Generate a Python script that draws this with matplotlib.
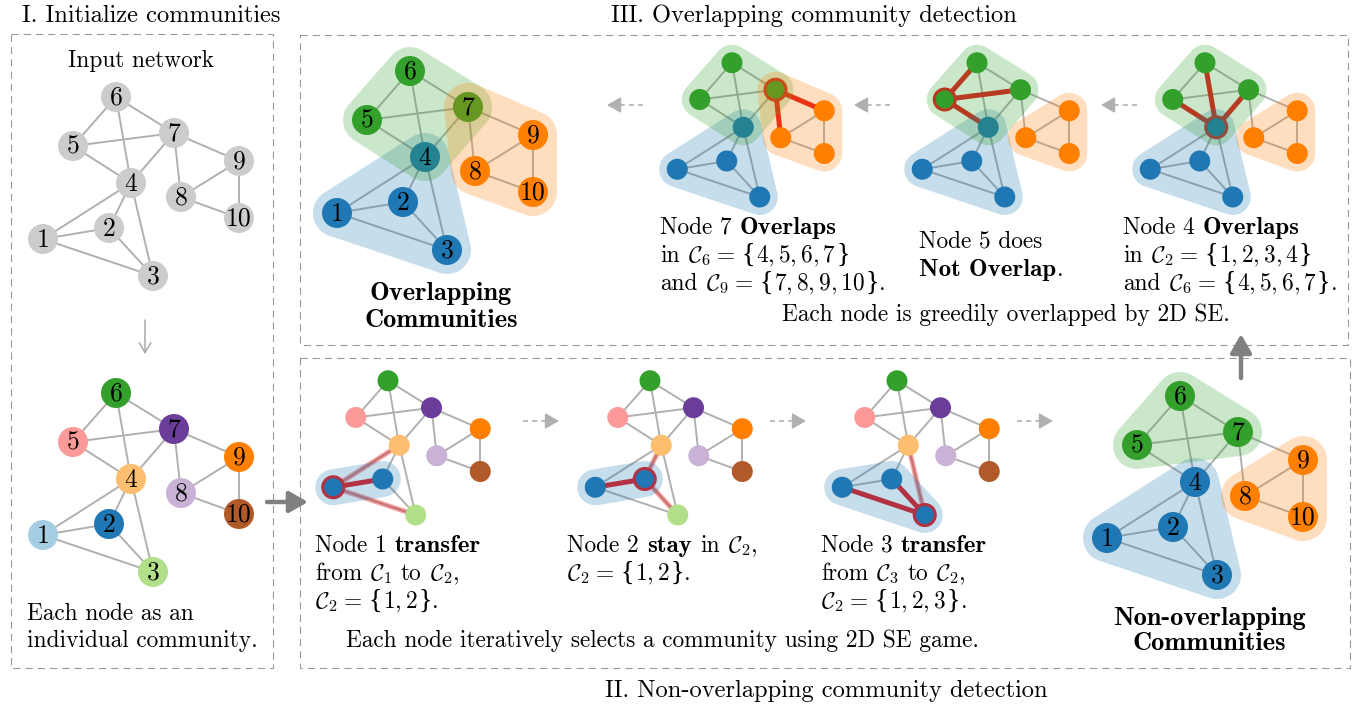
import numpy as np
import matplotlib
matplotlib.use("Agg")
import matplotlib.pyplot as plt
from matplotlib.patches import Circle, Polygon, FancyArrowPatch

plt.rcParams['font.family'] = 'cmr10'
plt.rcParams['mathtext.fontset'] = 'cm'
plt.rcParams['axes.unicode_minus'] = False

# graph: node ids, base layout (input network), edges
nodes = [1, 2, 3, 4, 5, 6, 7, 8, 9, 10]
base_x = [43, 109, 153, 131, 73, 116, 174, 181, 239, 239]
base_y = [239, 228, 276, 183, 146, 97, 133, 197, 161, 218]
edges = [(1, 2), (1, 3), (1, 4), (2, 3), (2, 4), (3, 4), (4, 5), (4, 6), (4, 7),
         (5, 6), (5, 7), (6, 7), (7, 8), (7, 9), (8, 9), (8, 10), (9, 10)]

# colours
init_colors = ['#a6cee3', '#1f78b4', '#b2df8a', '#fdbf6f', '#fb9a99',
               '#33a02c', '#6a3d9a', '#cab2d6', '#ff7f00', '#b15928']
blue, green, orange = '#1f78b4', '#33a02c', '#ff7f00'
final_colors = [blue, blue, blue, blue, green, green, green, orange, orange, orange]
red = '#e41a1c'

# communities
ov_comms = [([1, 2, 3, 4], blue), ([4, 5, 6, 7], green), ([7, 8, 9, 10], orange)]
ov_comms_b = [([1, 2, 3, 4], blue), ([4, 5, 6, 7], green), ([8, 9, 10], orange)]
non_comms = [([1, 2, 3, 4], blue), ([5, 6, 7], green), ([8, 9, 10], orange)]

# captions: (text, font) pieces per line
RM, BF, BR = 'cmr10', 'cmb10', 'Liberation Serif'
lines7 = [[('Node 7 ', RM), ('Overlaps', BF)],
          [('in ', RM), (r'$\mathcal{C}_6$', RM), (' = ', RM), ('{', BR), (r'$4,5,6,7$', RM), ('}', BR)],
          [('and ', RM), (r'$\mathcal{C}_9$', RM), (' = ', RM), ('{', BR), (r'$7,8,9,10$', RM), ('}', BR), ('.', RM)]]
lines5 = [[('Node 5 does', RM)],
          [('Not Overlap', BF), ('.', RM)]]
lines4 = [[('Node 4 ', RM), ('Overlaps', BF)],
          [('in ', RM), (r'$\mathcal{C}_2$', RM), (' = ', RM), ('{', BR), (r'$1,2,3,4$', RM), ('}', BR)],
          [('and ', RM), (r'$\mathcal{C}_6$', RM), (' = ', RM), ('{', BR), (r'$4,5,6,7$', RM), ('}', BR), ('.', RM)]]
lines_n1 = [[('Node 1 ', RM), ('transfer', BF)],
            [('from ', RM), (r'$\mathcal{C}_1$', RM), (' to ', RM), (r'$\mathcal{C}_2$', RM), (',', RM)],
            [(r'$\mathcal{C}_2$', RM), (' = ', RM), ('{', BR), (r'$1,2$', RM), ('}', BR), ('.', RM)]]
lines_n2 = [[('Node 2 ', RM), ('stay', BF), (' in ', RM), (r'$\mathcal{C}_2$', RM), (',', RM)],
            [(r'$\mathcal{C}_2$', RM), (' = ', RM), ('{', BR), (r'$1,2$', RM), ('}', BR), ('.', RM)]]
lines_n3 = [[('Node 3 ', RM), ('transfer', BF)],
            [('from ', RM), (r'$\mathcal{C}_3$', RM), (' to ', RM), (r'$\mathcal{C}_2$', RM), (',', RM)],
            [(r'$\mathcal{C}_2$', RM), (' = ', RM), ('{', BR), (r'$1,2,3$', RM), ('}', BR), ('.', RM)]]


def hull(p):
    pts = sorted(set(map(tuple, np.round(p, 3))))
    def half(seq):
        out = []
        for q in seq:
            while len(out) >= 2:
                a, b = out[-2], out[-1]
                if (b[0]-a[0])*(q[1]-a[1]) - (b[1]-a[1])*(q[0]-a[0]) <= 0:
                    out.pop()
                else:
                    break
            out.append(q)
        return out
    lo = half(pts)
    up = half(pts[::-1])
    return np.array(lo[:-1] + up[:-1])


def blob(p, pad, n=48):
    ang = np.linspace(0, 2*np.pi, n, endpoint=False)
    ring = np.stack([np.cos(ang), np.sin(ang)], 1) * pad
    return hull((p[:, None, :] + ring[None]).reshape(-1, 2))


fig = plt.figure(figsize=(13.69, 7.12), dpi=100)
ax = fig.add_axes([0, 0, 1, 1])
ax.set_xlim(0, 1369)
ax.set_ylim(712, 0)
ax.axis('off')
renderer = fig.canvas.get_renderer()

bx = np.array(base_x, float)
by = np.array(base_y, float)


def draw_graph(dx, dy, s, colors, r, comms=(), labels=False, focus=None,
               strong=(), weak=(), pad=24):
    pos = {n: (bx[i]*s + dx, by[i]*s + dy) for i, n in enumerate(nodes)}
    for a, b in edges:
        ax.plot([pos[a][0], pos[b][0]], [pos[a][1], pos[b][1]],
                color='#b0b0b0', lw=1.4, zorder=1, solid_capstyle='round')
    for b in strong:
        ax.plot([pos[focus][0], pos[b][0]], [pos[focus][1], pos[b][1]],
                color=red, lw=3.6, zorder=2)
    for b in weak:
        ax.plot([pos[focus][0], pos[b][0]], [pos[focus][1], pos[b][1]],
                color=red, alpha=0.42, lw=3.6, zorder=2)
    for i, n in enumerate(nodes):
        hl = n == focus
        ax.add_patch(Circle(pos[n], r, fc=colors[i], ec=red if hl else 'none',
                            lw=2.2 if hl else 0, zorder=3))
        if labels:
            ax.text(pos[n][0], pos[n][1] + 1, str(n), ha='center', va='center',
                    fontsize=18.5, zorder=5)
    for members, col in comms:
        p = np.array([pos[m] for m in members])
        ax.add_patch(Polygon(blob(p, pad*s), closed=True, fc=col, alpha=0.25,
                             ec='none', zorder=4))


# I. initialize
draw_graph(0, 0, 1, ['#cccccc']*10, 15, labels=True)
draw_graph(0, 296, 1, init_colors, 15, labels=True)

# III. overlapping detection
draw_graph(294, -26, 1, final_colors, 15, ov_comms, labels=True)
draw_graph(645, -10, 0.75, final_colors, 10.5, ov_comms, focus=7, strong=[8, 9])
draw_graph(890, -10, 0.75, final_colors, 10.5, ov_comms_b, focus=5, strong=[4, 6, 7])
draw_graph(1118, -10, 0.75, final_colors, 10.5, ov_comms_b, focus=4, strong=[5, 6, 7])

# II. non-overlapping detection
c1 = list(init_colors); c1[0] = blue
draw_graph(301, 308, 0.75, c1, 10.5, [([1, 2], blue)], focus=1, strong=[2], weak=[3, 4])
draw_graph(563, 308, 0.75, c1, 10.5, [([1, 2], blue)], focus=2, strong=[1], weak=[3, 4])
c3 = list(c1); c3[2] = blue
draw_graph(810, 308, 0.75, c3, 10.5, [([1, 2, 3], blue)], focus=3, strong=[1, 2], weak=[4])
draw_graph(1064, 299, 1, final_colors, 15, non_comms, labels=True)

# dashed boxes
box_kw = dict(fill=False, ec='#999999', lw=0.8, ls=(0, (6.5, 4.5)), zorder=0)
for x0, y0, x1, y1 in [(11, 34, 273, 668), (300, 35, 1348, 345), (300, 358, 1350, 668)]:
    ax.add_patch(plt.Rectangle((x0, y0), x1 - x0, y1 - y0, **box_kw))

# arrows
def arrow(p0, p1, color, lw, ms, dashed=False, style='-|>,head_length=0.7,head_width=0.4'):
    if dashed:
        mid = (p1[0] - (p1[0]-p0[0])*0.35, p1[1])
        ax.plot([p0[0], mid[0]], [p0[1], mid[1]], color=color, lw=lw, ls=(0, (3, 2.5)))
        p0 = mid
    ax.add_patch(FancyArrowPatch(p0, p1, arrowstyle=style, color=color, lw=lw,
                                 mutation_scale=ms, shrinkA=0, shrinkB=0))

arrow((145, 320), (145, 354), '#aaaaaa', 1.1, 14, style='->,head_length=0.5,head_width=0.3')
arrow((267, 502), (308, 502), '#808080', 3.2, 16)
arrow((1241, 378), (1241, 334), '#808080', 3.2, 16)
for xa, xb in [(643, 607), (890, 854), (1137, 1101)]:
    arrow((xa, 105), (xb, 105), '#b0b0b0', 1.2, 12, dashed=True)
for xa, xb in [(523, 559), (770, 806), (1017, 1053)]:
    arrow((xa, 421), (xb, 421), '#b0b0b0', 1.2, 12, dashed=True)

# titles and captions
fs = 16.8
fst = 17.6
fsb = 19
ax.text(22, 22, 'I. Initialize communities', fontsize=fst, va='baseline')
ax.text(814, 22, 'III. Overlapping community detection', fontsize=fst, va='baseline', ha='center')
ax.text(826, 697, 'II. Non-overlapping community detection', fontsize=fst, va='baseline', ha='center')
ax.text(141, 67, 'Input network', fontsize=fs, va='baseline', ha='center')
ax.text(27, 620, 'Each node as an', fontsize=fs, va='baseline')
ax.text(27, 647, 'individual community.', fontsize=fs, va='baseline')

ax.text(441, 300, 'Overlapping', family=BF, fontsize=fsb, va='baseline', ha='center')
ax.text(441, 327, 'Communities', family=BF, fontsize=fsb, va='baseline', ha='center')
ax.text(1209, 625, 'Non-overlapping', family=BF, fontsize=fsb, va='baseline', ha='center')
ax.text(1209, 650, 'Communities', family=BF, fontsize=fsb, va='baseline', ha='center')


def text_w(s, fam, size):
    t = ax.text(0, 0, s, family=fam, fontsize=size)
    w = t.get_window_extent(renderer).width
    t.remove()
    return w


space_w = text_w('x x', RM, fs) - text_w('xx', RM, fs)
sizes = {RM: fs, BF: fs*1.07, BR: fs*1.2}


def rich(x, y, pieces):
    for s, fam in pieces:
        core = s.strip(' ')
        gap = space_w * (0.75 if core == '=' else 1)
        x += (len(s) - len(s.lstrip(' '))) * gap
        if core:
            t = ax.text(x, y, core, family=fam, fontsize=sizes[fam], va='baseline')
            x += t.get_window_extent(renderer).width + (1 if fam == BR else 0.5)
        x += (len(s) - len(s.rstrip(' '))) * gap


for x, y0, lines in [(660, 234, lines7), (919, 248, lines5), (1123, 234, lines4),
                     (315, 552, lines_n1), (567, 552, lines_n2), (821, 552, lines_n3)]:
    for k, pieces in enumerate(lines):
        rich(x, y0 + 28*k, pieces)

ax.text(1006, 321, 'Each node is greedily overlapped by 2D SE.', fontsize=fs, va='baseline', ha='center')
ax.text(663, 647, 'Each node iteratively selects a community using 2D SE game.', fontsize=fs,
        va='baseline', ha='center')

fig.savefig('out.png', dpi=100)
